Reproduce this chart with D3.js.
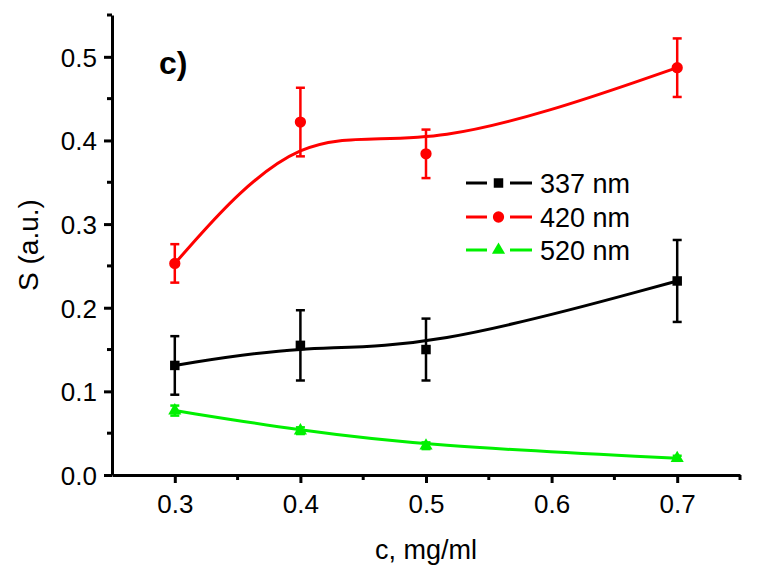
<!DOCTYPE html>
<html>
<head>
<meta charset="utf-8">
<script src="https://cdn.jsdelivr.net/npm/d3@7"></script>
<style>
  html, body { margin: 0; padding: 0; background: #fff; }
  svg { display: block; font-family: "Liberation Sans", Arial, sans-serif; }
</style>
</head>
<body>
<svg id="chart" width="759" height="580"></svg>
<script>
// ---- data ----
const concentrations = [0.3, 0.4, 0.5, 0.7];
const seriesNames = ["337 nm", "420 nm", "520 nm"];
const values337 = [0.131, 0.155, 0.150, 0.232];
const errors337 = [0.035, 0.042, 0.037, 0.049];
const values420 = [0.253, 0.422, 0.384, 0.487];
const errors420 = [0.023, 0.041, 0.029, 0.035];
const values520 = [0.077, 0.053, 0.035, 0.020];
const errors520 = [0.006, 0.004, 0.004, 0.003];
const xTicks = [0.3, 0.4, 0.5, 0.6, 0.7];
const yTicks = [0.0, 0.1, 0.2, 0.3, 0.4, 0.5];
const xLabel = "c, mg/ml";
const yLabel = "S (a.u.)";
const panelLabel = "c)";

const colors = ["#000000", "#ff0000", "#00f000"];
const shapes = [d3.symbolSquare, d3.symbolCircle, d3.symbolTriangle];
const markerSizes = [90, 100, 75];

const series = [
  { name: seriesNames[0], values: values337, errors: errors337 },
  { name: seriesNames[1], values: values420, errors: errors420 },
  { name: seriesNames[2], values: values520, errors: errors520 }
];

// ---- layout ----
const svg = d3.select("#chart");
const mLeft = 112, mRight = 740, mTop = 15, mBottom = 475;

const x = d3.scaleLinear().domain([0.25, 0.75]).range([mLeft, mRight]);
const y = d3.scaleLinear().domain([0, 0.55]).range([mBottom, mTop]);

// axes
const xAxis = d3.axisBottom(x).tickValues(xTicks).tickFormat(d3.format(".1f")).tickSize(8).tickSizeOuter(0);
const yAxis = d3.axisLeft(y).tickValues(yTicks).tickFormat(d3.format(".1f")).tickSize(8).tickSizeOuter(0);

const gx = svg.append("g").attr("transform", `translate(0,${mBottom})`).call(xAxis);
const gy = svg.append("g").attr("transform", `translate(${mLeft},0)`).call(yAxis);

// minor ticks
const xMinor = [0.35, 0.45, 0.55, 0.65, 0.75];
const yMinor = [0.05, 0.15, 0.25, 0.35, 0.45, 0.55];
svg.append("g").selectAll("line").data(xMinor).join("line")
  .attr("x1", d => x(d)).attr("x2", d => x(d))
  .attr("y1", mBottom).attr("y2", mBottom + 5)
  .attr("stroke", "#000").attr("stroke-width", 3);
svg.append("g").selectAll("line").data(yMinor).join("line")
  .attr("x1", mLeft - 5).attr("x2", mLeft)
  .attr("y1", d => y(d)).attr("y2", d => y(d))
  .attr("stroke", "#000").attr("stroke-width", 3);

[gx, gy].forEach(g => {
  g.select(".domain").attr("stroke", "#000").attr("stroke-width", 3);
  g.selectAll(".tick line").attr("stroke", "#000").attr("stroke-width", 3);
  g.selectAll(".tick text").attr("fill", "#000").style("font-size", "26px")
    .style("font-family", "'Liberation Sans', Arial, sans-serif");
});
gx.selectAll(".tick text").attr("dy", "0").attr("y", 38);
gy.selectAll(".tick text").attr("x", -15).attr("dy", "0.36em");

// axis titles
svg.append("text").attr("x", (mLeft + mRight) / 2).attr("y", 559)
  .attr("text-anchor", "middle").style("font-size", "27px").text(xLabel);
svg.append("text").attr("transform", `translate(38,245) rotate(-90)`)
  .attr("text-anchor", "middle").style("font-size", "28px").text(yLabel);

// panel label
svg.append("text").attr("x", 159).attr("y", 74)
  .style("font-size", "32px").style("font-weight", "bold").text(panelLabel);

// ---- series ----
const line = d3.line()
  .x((d, i) => x(concentrations[i]))
  .y(d => y(d))
  .curve(d3.curveBasis);

series.forEach((s, k) => {
  const g = svg.append("g");
  g.append("path").datum(s.values)
    .attr("d", line).attr("fill", "none")
    .attr("stroke", colors[k]).attr("stroke-width", 3);

  // error bars
  const eb = g.append("g").attr("stroke", colors[k]).attr("stroke-width", 2.5);
  s.values.forEach((v, i) => {
    const cx = x(concentrations[i]);
    const y1 = y(v + s.errors[i]), y2 = y(v - s.errors[i]);
    eb.append("line").attr("x1", cx).attr("x2", cx).attr("y1", y1).attr("y2", y2);
    eb.append("line").attr("x1", cx - 4.5).attr("x2", cx + 4.5).attr("y1", y1).attr("y2", y1);
    eb.append("line").attr("x1", cx - 4.5).attr("x2", cx + 4.5).attr("y1", y2).attr("y2", y2);
  });

  g.selectAll("path.marker").data(s.values).join("path")
    .attr("class", "marker")
    .attr("transform", (d, i) => `translate(${x(concentrations[i])},${y(d)})`)
    .attr("d", d3.symbol().type(shapes[k]).size(markerSizes[k]))
    .attr("fill", colors[k]);
});

// ---- legend ----
const legend = svg.append("g");
const legendRows = [183, 217, 250];
series.forEach((s, k) => {
  const ly = legendRows[k];
  const row = legend.append("g");
  row.append("line").attr("x1", 466).attr("x2", 487).attr("y1", ly).attr("y2", ly)
    .attr("stroke", colors[k]).attr("stroke-width", 3);
  row.append("line").attr("x1", 510).attr("x2", 532).attr("y1", ly).attr("y2", ly)
    .attr("stroke", colors[k]).attr("stroke-width", 3);
  row.append("path").attr("transform", `translate(498.5,${ly})`)
    .attr("d", d3.symbol().type(shapes[k]).size(markerSizes[k]))
    .attr("fill", colors[k]);
  row.append("text").attr("x", 540).attr("y", ly).attr("dy", "0.36em")
    .style("font-size", "27px").text(s.name);
});
</script>
</body>
</html>
